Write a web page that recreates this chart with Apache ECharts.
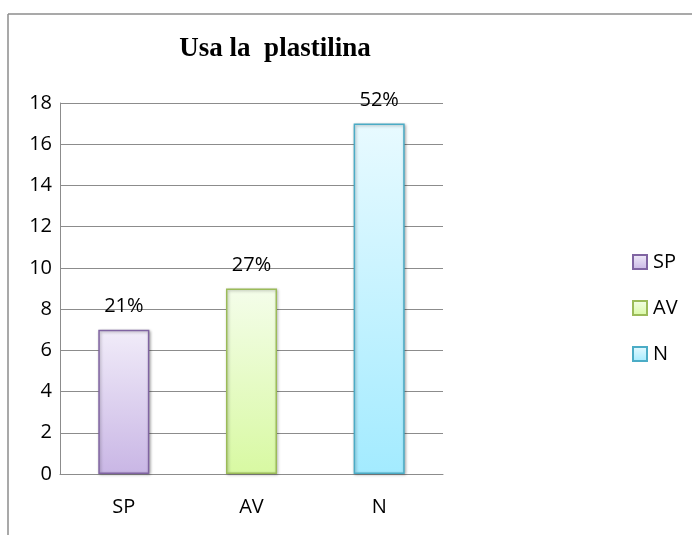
<!DOCTYPE html>
<html>
<head>
<meta charset="utf-8">
<script src="https://cdn.jsdelivr.net/npm/echarts@6/dist/echarts.min.js"></script>
<style>html,body{margin:0;padding:0;background:#fff;}#c{width:692px;height:535px;}</style>
</head>
<body>
<div id="c"></div>
<script>
var categories = ['SP', 'AV', 'N'];
var values = [7, 9, 17];
var percentLabels = ['21%', '27%', '52%'];
var yTicks = [0, 2, 4, 6, 8, 10, 12, 14, 16, 18];

var styles = [
  {border: '#8064A2', top: '#F1ECF9', bottom: '#C9B6E5'},
  {border: '#9BBB59', top: '#F4FDEA', bottom: '#D8F9A2'},
  {border: '#4BACC6', top: '#E8FAFF', bottom: '#A3EBFF'}
];

var chart = echarts.init(document.getElementById('c'));
var series = categories.map(function (name, i) {
  var d = categories.map(function (c, j) { return j === i ? values[i] : '-'; });
  return {
    name: name,
    type: 'bar',
    stack: 'all',
    barWidth: '40%',
    data: d,
    itemStyle: {
      color: new echarts.graphic.LinearGradient(0, 0, 0, 1, [
        {offset: 0, color: styles[i].top},
        {offset: 1, color: styles[i].bottom}
      ]),
      borderColor: styles[i].border,
      borderWidth: 1.5,
      shadowBlur: 3,
      shadowOffsetX: 1,
      shadowOffsetY: 1,
      shadowColor: 'rgba(0,0,0,0.3)'
    },
    label: {
      show: true,
      position: 'top',
      distance: 13,
      formatter: function () { return percentLabels[i]; },
      fontFamily: 'Open Sans',
      fontSize: 20,
      color: '#000'
    }
  };
});

chart.setOption({
  animation: false,
  title: {
    text: 'Usa la  plastilina',
    left: 270,
    textAlign: 'center',
    top: 31,
    textStyle: {fontFamily: 'Liberation Serif', fontWeight: 'bold', fontSize: 27, color: '#000'}
  },
  legend: {
    orient: 'vertical',
    left: 627,
    top: 247,
    itemWidth: 14,
    itemHeight: 14,
    itemGap: 26,
    icon: 'rect',
    textStyle: {fontFamily: 'Open Sans', fontSize: 20, color: '#000', padding: [0, 0, 0, 1]},
    data: categories
  },
  grid: {left: 60, right: 249, top: 103, bottom: 61, containLabel: false},
  xAxis: {
    type: 'category',
    data: categories,
    axisLine: {lineStyle: {color: '#8c8c8c'}},
    axisTick: {show: false},
    axisLabel: {fontFamily: 'Open Sans', fontSize: 20, color: '#000', margin: 23}
  },
  yAxis: {
    type: 'value',
    min: yTicks[0],
    max: yTicks[yTicks.length - 1],
    interval: 2,
    axisLine: {show: true, lineStyle: {color: '#8c8c8c'}},
    axisTick: {show: false},
    splitLine: {lineStyle: {color: '#8c8c8c'}},
    axisLabel: {fontFamily: 'Open Sans', fontSize: 20, color: '#000', margin: 8}
  },
  graphic: [
    {type: 'line', shape: {x1: 8, y1: 14, x2: 692, y2: 14}, style: {stroke: '#8c8c8c', lineWidth: 1.5}},
    {type: 'line', shape: {x1: 8, y1: 14, x2: 8, y2: 535}, style: {stroke: '#8c8c8c', lineWidth: 1.5}}
  ],
  series: series
});
</script>
</body>
</html>
